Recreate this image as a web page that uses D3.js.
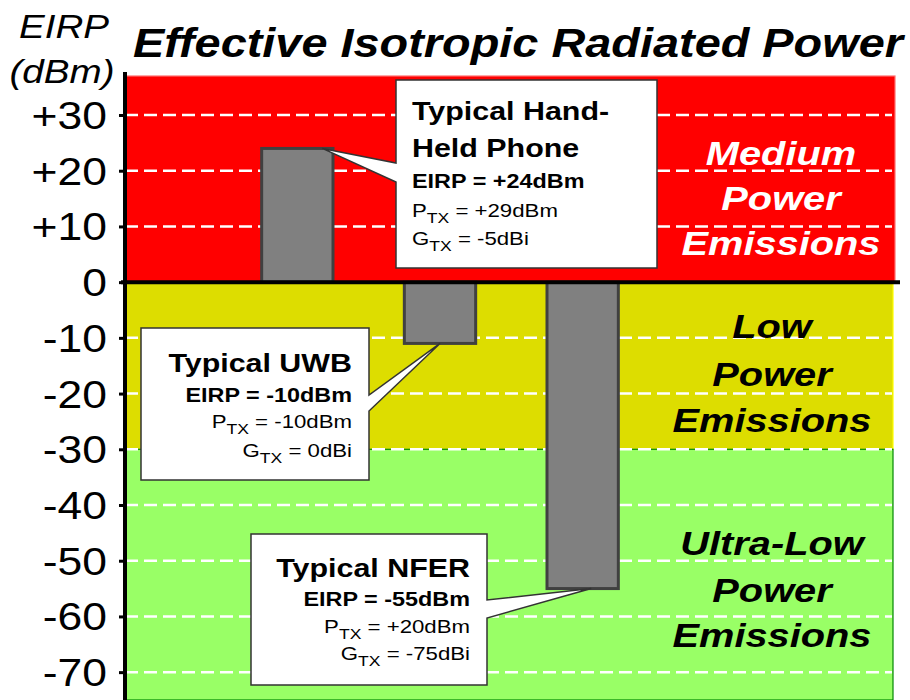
<!DOCTYPE html>
<html>
<head>
<meta charset="utf-8">
<script src="https://cdnjs.cloudflare.com/ajax/libs/d3/7.8.5/d3.min.js"></script>
<style>
  body { margin: 0; background: #fff; }
  svg { display: block; font-family: "Liberation Sans", Arial, sans-serif; }
</style>
</head>
<body>
<svg id="chart" width="910" height="700"></svg>
<script>
// chart data
var categories = ['Hand-Held Phone', 'UWB', 'NFER'];
var eirp = [24, -11, -55];
var yTicks = [30, 20, 10, 0, -10, -20, -30, -40, -50, -60, -70];
var tickLabels = ['+30', '+20', '+10', '0', '-10', '-20', '-30', '-40', '-50', '-60', '-70'];
var zoneNames = [['Medium', 'Power', 'Emissions'], ['Low', 'Power', 'Emissions'], ['Ultra-Low', 'Power', 'Emissions']];
var zoneTops = [37, 0, -30];
var zoneBottoms = [0, -30, -75];
var calloutTitles = [['Typical Hand-', 'Held Phone'], ['Typical UWB'], ['Typical NFER']];
var calloutEirp = ['EIRP = +24dBm', 'EIRP = -10dBm', 'EIRP = -55dBm'];
var calloutPtx = [' = +29dBm', ' = -10dBm', ' = +20dBm'];
var calloutGtx = [' = -5dBi', ' = 0dBi', ' = -75dBi'];

var svg = d3.select('#chart');
var plotLeft = 125, plotRight = 893, plotTop = 76, plotBottom = 700;
var stretch = 1.17; // text in the original is drawn a bit wide

var y = d3.scaleLinear().domain([-75, 37]).range([plotBottom, plotTop]);
var x = d3.scaleBand().domain(categories).range([226, 654])
	.paddingInner(0.5).paddingOuter(0.25);

var zoneFill = ['#ff0000', '#dddd00', '#99ff66'];
var zoneEdge = ['#ff7070', '#ffff00', '#008800'];
var zoneTextColor = ['#fff', '#000', '#000'];

//helper: text stretched horizontally
function stext(g, px, py, str, size, weight, style, anchor, color) {
	return g.append('text')
		.attr('transform', 'translate(' + px + ',' + py + ') scale(' + stretch + ',1)')
		.attr('font-size', size)
		.attr('font-weight', weight)
		.attr('font-style', style)
		.attr('text-anchor', anchor)
		.attr('fill', color || '#000')
		.text(str);
}

//background zones
zoneFill.forEach(function(c, i) {
	svg.append('rect')
		.attr('x', plotLeft)
		.attr('y', y(zoneTops[i]))
		.attr('width', (i == 0 ? 895 : plotRight) - plotLeft)
		.attr('height', y(zoneBottoms[i]) - y(zoneTops[i]))
		.attr('fill', c)
		.attr('stroke', zoneEdge[i])
		.attr('stroke-width', 1.2);
});

//dashed grid lines
svg.selectAll('.grid').data(yTicks.filter(function(d) { return d != 0; }))
	.enter().append('line')
	.attr('class', 'grid')
	.attr('x1', plotLeft).attr('x2', plotRight - 1)
	.attr('y1', function(d) { return y(d); })
	.attr('y2', function(d) { return y(d); })
	.attr('stroke', '#fff')
	.attr('stroke-width', 2.5)
	.attr('stroke-dasharray', '13,6');

//zone labels
var zoneCenters = [781, 772, 772];
var zoneBaselines = [[165, 210, 255], [338, 386, 432], [555, 602, 647]];
zoneNames.forEach(function(lines, i) {
	lines.forEach(function(t, j) {
		stext(svg, zoneCenters[i], zoneBaselines[i][j], t, 34, 'bold', 'italic', 'middle', zoneTextColor[i]);
	});
});

//bars
svg.selectAll('.bar').data(eirp)
	.enter().append('rect')
	.attr('class', 'bar')
	.attr('x', function(d, i) { return x(categories[i]); })
	.attr('width', x.bandwidth())
	.attr('y', function(d) { return y(Math.max(0, d)); })
	.attr('height', function(d) { return Math.abs(y(d) - y(0)); })
	.attr('fill', '#808080')
	.attr('stroke', '#404040')
	.attr('stroke-width', 3);

//zero line
svg.append('line')
	.attr('x1', plotLeft - 4).attr('x2', 900)
	.attr('y1', y(0)).attr('y2', y(0))
	.attr('stroke', '#000').attr('stroke-width', 4);

//y axis
svg.append('line')
	.attr('x1', plotLeft).attr('x2', plotLeft)
	.attr('y1', 72).attr('y2', plotBottom)
	.attr('stroke', '#000').attr('stroke-width', 4);

var yAxis = d3.axisLeft(y).tickValues(yTicks).tickSize(6).tickFormat('');
var axisG = svg.append('g').attr('transform', 'translate(' + plotLeft + ',0)').call(yAxis);
axisG.select('.domain').remove();
axisG.selectAll('.tick line').attr('stroke', '#000').attr('stroke-width', 3);

yTicks.forEach(function(t, i) {
	stext(svg, 107, y(t) + 14, tickLabels[i], 38, 'normal', 'normal', 'end');
});

//axis title and chart title
stext(svg, 64, 38, 'EIRP', 33, 'normal', 'italic', 'middle');
stext(svg, 62, 83, '(dBm)', 33, 'normal', 'italic', 'middle');
svg.append('text')
	.attr('x', 133).attr('y', 57)
	.attr('font-size', 41)
	.attr('font-weight', 'bold')
	.attr('font-style', 'italic')
	.attr('textLength', 770)
	.attr('lengthAdjust', 'spacingAndGlyphs')
	.text('Effective Isotropic Radiated Power');

//callouts
var callouts = [
	{x: 396, y: 80, w: 261, h: 188, side: 'left', b1: 163, b2: 182, tip: 0.85, anchor: 'start', tx: 412, rows: [120, 157, 188, 217, 245]},
	{x: 141, y: 328, w: 228, h: 152, side: 'right', b1: 395, b2: 411, tip: 0.5, anchor: 'end', tx: 352, rows: [372, 402, 428, 457]},
	{x: 251, y: 534, w: 236, h: 151, side: 'right', b1: 600, b2: 618, tip: 0.62, anchor: 'end', tx: 470, rows: [577, 606, 633, 660]}
];

callouts.forEach(function(c, i) {
	var tipX = x(categories[i]) + c.tip * x.bandwidth();
	var tipY = y(eirp[i]);
	var p;
	if (c.side == 'left') {
		p = 'M' + c.x + ',' + c.y + 'H' + (c.x + c.w) + 'V' + (c.y + c.h) + 'H' + c.x +
			'V' + c.b2 + 'L' + tipX + ',' + tipY + 'L' + c.x + ',' + c.b1 + 'Z';
	} else {
		p = 'M' + c.x + ',' + c.y + 'H' + (c.x + c.w) + 'V' + c.b1 + 'L' + tipX + ',' + tipY +
			'L' + (c.x + c.w) + ',' + c.b2 + 'V' + (c.y + c.h) + 'H' + c.x + 'Z';
	}
	svg.append('path').attr('d', p)
		.attr('fill', '#fff').attr('stroke', '#333').attr('stroke-width', 1.5)
		.attr('stroke-linejoin', 'miter');

	var r = 0;
	calloutTitles[i].forEach(function(t) {
		stext(svg, c.tx, c.rows[r++], t, 26, 'bold', 'normal', c.anchor);
	});
	stext(svg, c.tx, c.rows[r++], calloutEirp[i], 20, 'bold', 'normal', c.anchor);

	//subscript rows
	[['P', calloutPtx[i]], ['G', calloutGtx[i]]].forEach(function(parts) {
		var t = stext(svg, c.tx, c.rows[r++], '', 19, 'normal', 'normal', c.anchor);
		t.append('tspan').text(parts[0]);
		t.append('tspan').attr('font-size', 15).attr('dy', 6).text('TX');
		t.append('tspan').attr('dy', -6).text(parts[1]);
	});
});
</script>
</body>
</html>
